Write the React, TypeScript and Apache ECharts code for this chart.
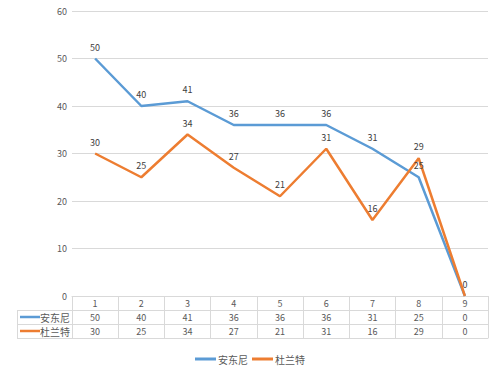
import React, { useEffect, useRef } from "react";
import * as echarts from "echarts";

const categories = ["1", "2", "3", "4", "5", "6", "7", "8", "9"];
const seriesNames = ["安东尼", "杜兰特"];
const anthony = [50, 40, 41, 36, 36, 36, 31, 25, 0];
const durant = [30, 25, 34, 27, 21, 31, 16, 29, 0];
const colors = ["#5B9BD5", "#ED7D31"];

const FONT = "'Noto Sans CJK SC', sans-serif";
const GRID_COLOR = "#d9d9d9";
const TEXT = "#595959";

export default function App() {
  const ref = useRef<HTMLDivElement>(null);
  useEffect(() => {
    if (!ref.current) return;
    const chart = echarts.init(ref.current, undefined, { renderer: "svg" });
    const rowAxis = (values: number[], offset: number) => ({
      type: "category",
      data: categories,
      position: "bottom",
      offset,
      gridIndex: 0,
      axisLine: { show: true, lineStyle: { color: GRID_COLOR, width: 1 } },
      axisTick: { show: false },
      axisLabel: {
        color: TEXT,
        fontSize: 9,
        fontFamily: FONT,
        margin: 3,
        formatter: (_v: string, i: number) => String(values[i]),
      },
      splitLine: { show: false },
    });
    const rowTop = 296;
    const rowH = 14;
    const legendCol: any[] = [];
    seriesNames.forEach((name, i) => {
      const yc = rowTop + rowH * (i + 1) + rowH / 2;
      legendCol.push({
        type: "line",
        shape: { x1: 20, y1: yc, x2: 40, y2: yc },
        style: { stroke: colors[i], lineWidth: 2.5 },
      });
      legendCol.push({
        type: "text",
        x: 70,
        y: yc,
        style: {
          text: name,
          fill: TEXT,
          fontSize: 10,
          fontFamily: FONT,
          align: "right",
          verticalAlign: "middle",
        },
      });
    });
    [1, 2, 3].forEach((k) => {
      legendCol.push({
        type: "line",
        shape: { x1: 17, y1: rowTop + rowH * k + 0.5, x2: 72, y2: rowTop + rowH * k + 0.5 },
        style: { stroke: GRID_COLOR, lineWidth: 1 },
      });
    });
    legendCol.push({
      type: "line",
      shape: { x1: 17.5, y1: rowTop + rowH, x2: 17.5, y2: rowTop + rowH * 3 },
      style: { stroke: GRID_COLOR, lineWidth: 1 },
    });

    chart.setOption({
      animation: false,
      textStyle: { fontFamily: FONT },
      grid: { left: 72, right: 12, top: 11, bottom: 79 },
      legend: {
        data: seriesNames,
        bottom: 6,
        left: "center",
        icon: "rect",
        itemWidth: 21,
        itemHeight: 3,
        itemGap: 4,
        textStyle: { color: TEXT, fontSize: 10, fontFamily: FONT, padding: [0, 0, 0, -3] },
      },
      xAxis: [
        {
          type: "category",
          data: categories,
          position: "bottom",
          boundaryGap: true,
          axisLine: { show: true, lineStyle: { color: GRID_COLOR, width: 1 } },
          axisTick: { show: true, length: 42, lineStyle: { color: GRID_COLOR } },
          axisLabel: { color: TEXT, fontSize: 9, fontFamily: FONT, margin: 3 },
        },
        rowAxis(anthony, 14),
        rowAxis(durant, 28),
        {
          type: "category",
          data: categories,
          position: "bottom",
          offset: 42,
          axisLine: { show: true, lineStyle: { color: GRID_COLOR, width: 1 } },
          axisTick: { show: false },
          axisLabel: { show: false },
        },
      ],
      yAxis: {
        type: "value",
        min: 0,
        max: 60,
        interval: 10,
        axisLine: { show: false },
        axisTick: { show: false },
        axisLabel: { color: TEXT, fontSize: 9, fontFamily: FONT, margin: 5 },
        splitLine: { lineStyle: { color: GRID_COLOR, width: 1 } },
      },
      series: [anthony, durant].map((d, i) => ({
        name: seriesNames[i],
        type: "line",
        data: d,
        xAxisIndex: 0,
        color: colors[i],
        symbol: "circle",
        symbolSize: 0,
        showSymbol: true,
        lineStyle: { width: 2.5, color: colors[i] },
        labelLayout: { hideOverlap: true },
        label: {
          show: true,
          position: "top",
          distance: 7,
          color: "#404040",
          fontSize: 9,
          fontFamily: FONT,
        },
      })),
      graphic: legendCol,
    });
    return () => chart.dispose();
  }, []);
  return (
    <div
      ref={ref}
      style={{ position: "absolute", left: 0, top: 0, width: 500, height: 375 }}
    />
  );
}
